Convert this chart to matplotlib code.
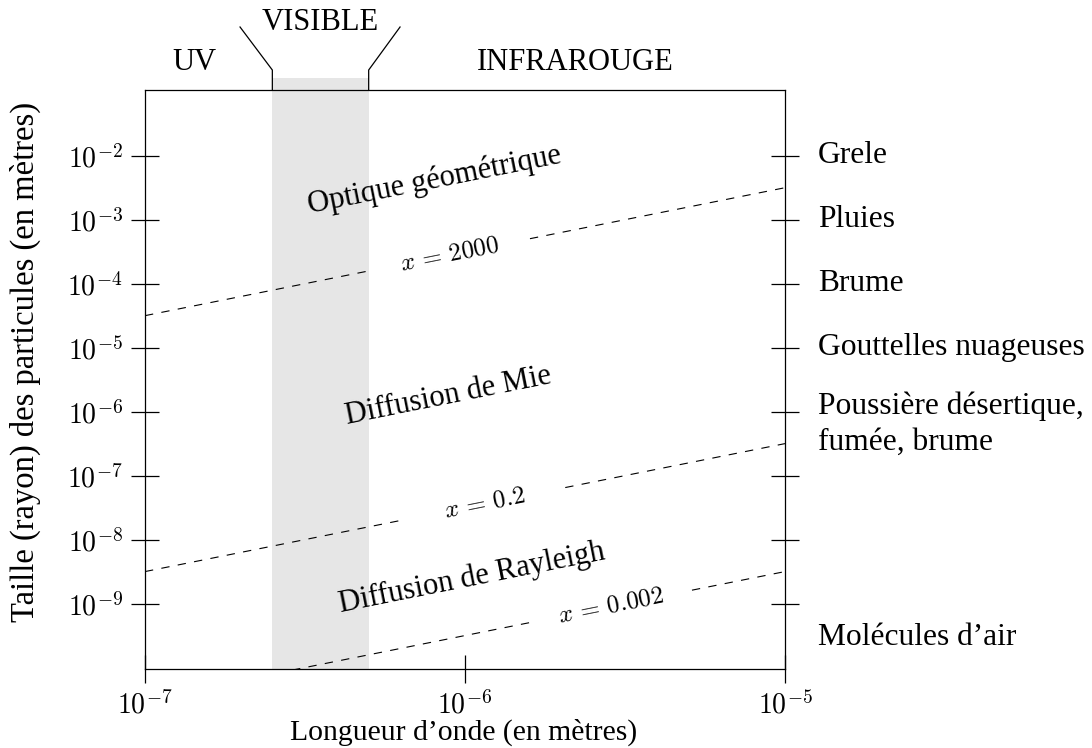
import numpy as np
import matplotlib
matplotlib.use('Agg')
import matplotlib.pyplot as plt
import matplotlib.transforms as mtransforms

plt.rcParams['font.family'] = ['Liberation Serif', 'DejaVu Serif']
plt.rcParams['mathtext.fontset'] = 'cm'
plt.rcParams['lines.scale_dashes'] = False

# ---------------- data ----------------
xlim = (1e-7, 1e-5)
ylim = (10**-10.02, 10**-0.97)
xticks = [1e-7, 1e-6, 1e-5]
xtick_labels = [r'$10^{-7}$', r'$10^{-6}$', r'$10^{-5}$']
yticks = [1e-2, 1e-3, 1e-4, 1e-5, 1e-6, 1e-7, 1e-8, 1e-9]
ytick_labels = [r'$10^{-2}$', r'$10^{-3}$', r'$10^{-4}$', r'$10^{-5}$',
                r'$10^{-6}$', r'$10^{-7}$', r'$10^{-8}$', r'$10^{-9}$']
visible_band = (2.5e-7, 5e-7)
size_params = [2000, 0.2, 0.002]
size_labels = [r'$x\,=\,2000$', r'$x\,=\,0.2$', r'$x\,=\,0.002$']
size_label_wavelength = [10**-6.047, 10**-5.9375, 10**-5.544]
particle_labels = ['Grele', 'Pluies', 'Brume', 'Gouttelles nuageuses',
                   'Poussière désertique,\nfumée, brume', 'Molécules d\u2019air']
particle_radius = [1e-2, 1e-3, 1e-4, 1e-5, 10**-6.19, 10**-9.53]
regime_labels = ['Optique géométrique', 'Diffusion de Mie', 'Diffusion de Rayleigh']
regime_wavelength = [10**-6.094, 10**-6.053, 10**-5.978]
regime_radius = [10**-2.375, 10**-5.75, 10**-8.59]
spectrum_labels = ['UV', 'VISIBLE', 'INFRAROUGE']
spectrum_wavelength = [10**-6.844, 10**-6.453, 10**-5.656]
spectrum_height = [1.048, 1.117, 1.048]
xlabel = 'Longueur d\u2019onde (en mètres)'
ylabel = 'Taille (rayon) des particules (en mètres)'

# ---------------- figure ----------------
W, H = 1092, 748
fig = plt.figure(figsize=(W / 100, H / 100), dpi=100)
ax = fig.add_axes([145/W, 1-669/H, 640/W, 579/H])
ax.set_xscale('log')
ax.set_yscale('log')
ax.set_xlim(*xlim)
ax.set_ylim(*ylim)

for s in ax.spines.values():
    s.set_linewidth(0.9)

ax.set_xticks(xticks)
ax.set_xticklabels(xtick_labels, fontsize=20)
ax.set_yticks(yticks)
ax.set_yticklabels(ytick_labels, fontsize=20)
ax.minorticks_off()
ax.yaxis.set_ticks_position('both')
ax.tick_params(axis='both', direction='inout', length=20, width=0.9, pad=6)
ax.tick_params(axis='y', labelright=False)

# axis labels (positioned as in the reference)
fig.text(464/W, 1-740/H, xlabel, ha='center', va='baseline', fontsize=21.3)
fig.text(25/W, 1-362/H, ylabel, ha='center', va='center', fontsize=23.5,
         rotation=90)

# visible band (extends slightly above the axes)
trans = mtransforms.blended_transform_factory(ax.transData, ax.transAxes)
ax.axvspan(visible_band[0], visible_band[1], ymin=0, ymax=1.0207,
           color='#e6e6e6', lw=0, clip_on=False, zorder=0)

# spectrum markers above the axes
for xe, xd in [(visible_band[0], 10**-6.703), (visible_band[1], 10**-6.203)]:
    ax.plot([xe, xe, xd], [1.0, 1.0345, 1.1088], transform=trans,
            color='black', lw=0.9, clip_on=False)
for lab, xw, yh in zip(spectrum_labels, spectrum_wavelength, spectrum_height):
    ax.text(xw, yh, lab, transform=trans, ha='center', va='center', fontsize=22)

# size parameter lines r = x * lambda / (2 pi), with gaps for labels
lam = np.logspace(-7, -5, 400)
for xp, lab, lw_lab in zip(size_params, size_labels, size_label_wavelength):
    r = xp * lam / (2 * np.pi)
    lo, hi = lw_lab * 10**-0.25, lw_lab * 10**0.25
    for mask in [lam <= lo, lam >= hi]:
        ax.plot(lam[mask], r[mask], color='black', lw=0.8,
                dashes=(6, 6), zorder=2)
    ax.text(lw_lab, xp * lw_lab / (2 * np.pi), lab, rotation=11.3,
            rotation_mode='anchor', ha='center', va='center', fontsize=18)

# regimes
for lab, xw, yr in zip(regime_labels, regime_wavelength, regime_radius):
    ax.text(xw, yr, lab, rotation=11.3, ha='center', va='center', fontsize=22)

# particle labels on right
trans2 = mtransforms.blended_transform_factory(ax.transAxes, ax.transData)
for lab, yr in zip(particle_labels, particle_radius):
    ax.text(1.0516, yr, lab, transform=trans2, ha='left', va='center',
            fontsize=22.7, linespacing=1.3)

fig.savefig('out.png', dpi=100)
